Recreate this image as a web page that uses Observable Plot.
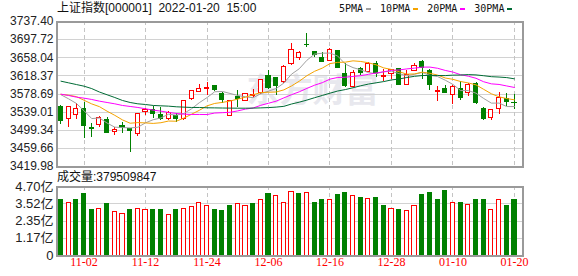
<!DOCTYPE html>
<html><head><meta charset="utf-8">
<script src="https://cdn.jsdelivr.net/npm/d3@7"></script>
<script src="https://cdn.jsdelivr.net/npm/@observablehq/plot@0.6"></script>
<style>
body{margin:0;background:#fff;}
#wrap{position:relative;width:578px;height:276px;overflow:hidden;background:#fff;font-family:"Liberation Sans",Arial,"Noto Sans CJK SC",sans-serif;}
#wrap svg{position:absolute;left:0;overflow:visible;}
.abs{position:absolute;white-space:pre;line-height:14px;}
.leg{position:absolute;top:2px;left:339px;display:flex;align-items:center;font:10px "DejaVu Sans Mono",monospace;color:#111;line-height:14px;}
.leg i{display:inline-block;width:5px;height:2px;margin:0 9px 0 3px;}
</style></head>
<body><div id="wrap"></div>
<script>
// ---- data ----
const titleText = "上证指数[000001]  2022-01-20  15:00";
const volLabel = "成交量";
const lastVolume = 379509847;
const maNames = ["5PMA", "10PMA", "20PMA", "30PMA"];

const dates = ["10-28","10-29","11-01","11-02","11-03","11-04","11-05","11-08","11-09","11-10",
"11-11","11-12","11-15","11-16","11-17","11-18","11-19","11-22","11-23","11-24",
"11-25","11-26","11-29","11-30","12-01","12-02","12-03","12-06","12-07","12-08",
"12-09","12-10","12-13","12-14","12-15","12-16","12-17","12-20","12-21","12-22",
"12-23","12-24","12-27","12-28","12-29","12-30","12-31","01-04","01-05","01-06",
"01-07","01-10","01-11","01-12","01-13","01-14","01-17","01-18","01-19","01-20"];

const open = [3550.6,3523.0,3533.2,3544.8,3504.1,3509.9,3521.5,3494.6,3508.0,3502.6,
3490.2,3539.0,3543.4,3532.5,3523.0,3531.0,3523.0,3567.4,3583.4,3590.7,
3595.8,3578.3,3531.0,3572.5,3563.8,3574.5,3581.2,3617.6,3613.3,3606.0,
3643.9,3657.7,3686.8,3671.5,3656.9,3651.1,3672.2,3622.0,3595.1,3634.4,
3627.1,3643.8,3615.4,3623.5,3632.9,3599.4,3629.3,3648.9,3629.3,3584.1,
3590.7,3576.1,3590.7,3581.2,3601.6,3544.8,3525.2,3544.8,3567.4,3559.4];
const high = [3554.3,3550.0,3557.9,3560.1,3514.3,3530.3,3528.1,3506.2,3515.7,3503.5,
3536.1,3547.0,3552.1,3549.2,3539.7,3536.1,3563.8,3587.1,3599.4,3603.8,
3597.2,3581.2,3565.2,3585.6,3580.0,3589.2,3610.4,3629.3,3614.7,3640.2,
3689.0,3670.8,3710.8,3672.5,3669.3,3677.3,3674.4,3645.3,3629.3,3637.3,
3646.7,3649.7,3632.2,3632.2,3634.4,3630.7,3644.6,3652.6,3632.2,3594.4,
3597.2,3596.5,3605.3,3601.6,3603.1,3548.5,3544.8,3581.2,3579.8,3578.3];
const low = [3512.1,3505.5,3523.0,3481.5,3483.0,3505.5,3492.4,3488.8,3492.4,3450.9,
3486.6,3531.0,3524.4,3521.5,3521.5,3517.2,3520.1,3565.2,3581.2,3576.1,
3584.9,3557.9,3528.8,3549.2,3562.3,3571.0,3578.3,3588.5,3576.1,3601.6,
3640.2,3652.6,3680.2,3658.4,3646.7,3649.7,3633.6,3592.2,3592.9,3618.4,
3624.9,3614.7,3605.3,3610.4,3598.5,3598.0,3627.1,3611.1,3585.6,3561.6,
3579.8,3555.8,3565.2,3573.9,3556.5,3521.5,3521.5,3533.9,3552.1,3544.8];
const close = [3520.1,3549.2,3544.8,3509.2,3501.1,3526.6,3493.9,3499.7,3505.0,3496.8,
3533.9,3542.6,3533.9,3524.5,3537.6,3523.0,3562.3,3584.9,3590.7,3592.9,
3587.1,3565.2,3563.8,3568.1,3579.0,3577.0,3608.9,3592.2,3596.5,3638.7,
3674.4,3667.9,3685.3,3664.2,3648.2,3675.9,3635.8,3596.5,3625.6,3624.9,
3645.3,3623.5,3617.6,3630.7,3599.4,3621.3,3640.9,3636.6,3599.4,3586.3,
3581.2,3594.4,3569.6,3599.4,3557.9,3523.0,3543.4,3570.3,3561.6,3557.9];

// volume in 亿, and whether the bar is drawn as "up" (red hollow)
const volume = [3.81,3.59,3.81,4.22,3.07,3.18,3.54,2.97,2.84,3.07,
3.18,3.07,3.13,3.13,2.79,3.13,3.18,3.31,3.59,3.38,
3.07,3.00,3.34,3.52,3.34,3.54,3.79,4.22,4.06,3.59,
4.34,4.22,4.27,3.61,3.81,3.79,4.09,4.29,4.06,3.95,
3.86,3.95,3.34,3.18,3.07,3.04,3.34,4.09,4.29,3.75,
4.36,3.59,3.61,3.45,3.75,3.81,3.11,3.79,3.34,3.80];
const volUp = [0,1,0,0,0,1,0,1,1,0, 1,1,0,0,1,0,1,1,1,1, 0,0,0,1,1,0,1,0,1,1,
1,0,1,0,0,1,0,0,1,0, 1,0,0,1,0,1,1,0,0,0, 0,1,0,1,0,0,1,1,0,0];

const ma5 = [3577,3568,3558,3542,3524.9,3526.2,3515.1,3506.1,3505.3,3504.4,
3505.9,3515.6,3522.4,3526.3,3534.5,3532.3,3536.3,3546.5,3559.7,3570.8,
3583.6,3584.2,3579.9,3575.4,3572.6,3570.6,3579.4,3585.0,3590.7,3602.7,
3622.1,3633.9,3652.6,3666.1,3668.0,3668.3,3661.9,3644.1,3636.4,3631.7,
3625.6,3623.2,3627.4,3628.4,3623.3,3618.5,3622.0,3625.8,3619.5,3616.9,
3608.9,3599.6,3586.2,3586.2,3580.5,3568.9,3558.7,3558.8,3551.2,3551.2];
const ma10 = [3578,3576,3573,3565,3557,3551,3541,3532,3522,3514.7,
3516.1,3515.4,3514.3,3515.8,3519.5,3519.1,3526.0,3534.5,3543.0,3552.7,
3558.0,3560.3,3563.2,3567.6,3571.7,3577.1,3581.8,3582.5,3583.1,3587.7,
3596.4,3606.7,3618.8,3628.4,3635.4,3645.2,3647.9,3648.4,3651.3,3649.9,
3647.0,3642.6,3635.8,3632.4,3627.5,3622.1,3622.6,3626.6,3624.0,3620.1,
3613.7,3610.8,3606.0,3602.9,3598.7,3588.9,3579.2,3572.5,3568.7,3565.9];
const ma20 = [3578.3,3575.4,3571.8,3569.6,3566.7,3563.0,3560.1,3557.2,3553.6,3551.4,
3549.2,3546.3,3543.4,3541.2,3538.3,3536.1,3534.6,3533.9,3533.9,3533.7,
3537.0,3537.8,3538.7,3541.7,3545.6,3548.1,3553.9,3558.5,3563.0,3570.2,
3577.2,3583.5,3591.0,3598.0,3603.5,3611.2,3614.9,3615.4,3617.2,3618.8,
3621.7,3624.6,3627.3,3630.4,3631.4,3633.6,3635.3,3637.5,3637.6,3635.0,
3630.3,3626.7,3620.9,3617.6,3613.1,3605.5,3600.9,3599.6,3596.3,3593.0];
const ma30 = [3606.7,3603.1,3599.4,3595.8,3590.5,3583.0,3577.0,3571.0,3564.5,3560.1,
3557.2,3555.7,3553.6,3552.8,3552.1,3550.7,3549.9,3549.2,3549.2,3548.5,
3548.3,3548.0,3547.8,3547.6,3547.6,3547.8,3548.3,3549.0,3550.0,3551.7,
3556.8,3560.8,3565.4,3570.6,3575.5,3580.5,3585.2,3588.4,3592.4,3596.7,
3600.4,3603.2,3605.9,3609.5,3611.5,3614.8,3617.4,3619.1,3619.4,3619.2,
3619.0,3620.0,3620.2,3621.2,3620.5,3618.7,3616.6,3615.8,3614.6,3611.9];

const priceTicks = [3419.98,3459.66,3499.34,3539.01,3578.69,3618.37,3658.04,3697.72,3737.40];
const volTicks = [0,1.17,2.35,3.52,4.70];
const volTickLabels = ["0","1.17亿","2.35亿","3.52亿","4.70亿"];
const xTickLabels = ["11-02","11-12","11-24","12-06","12-16","12-28","01-10","01-20"];
const watermark = "东方财富";

// ---- build ----
const RED = "#ff0000", GREEN = "#008000";
const maColors = ["#a0a0a0", "#f5a300", "#ff00ff", "#006b35"];
const rows = dates.map((d, k) => ({i: k + 1, date: d, open: open[k], high: high[k], low: low[k], close: close[k], vol: volume[k], vup: volUp[k]}));
const maSeries = [ma5, ma10, ma20, ma30];
const maRows = maSeries.flatMap((arr, s) => arr.map((v, k) => ({i: k + 1, v, s})));
const tickIdx = xTickLabels.map(t => dates.indexOf(t) + 1);
const xDomain = [0.415, 61.05];
const hw = 0.27;
const font = "'Liberation Sans', Arial, 'Noto Sans CJK SC', sans-serif";
const wrap = document.getElementById("wrap");

const price = Plot.plot({
  width: 578, height: 176,
  marginLeft: 56, marginRight: 56, marginTop: 21, marginBottom: 10,
  x: {type: "linear", domain: xDomain, axis: null},
  y: {domain: [priceTicks[0], priceTicks[priceTicks.length - 1]], axis: null},
  color: {type: "identity"},
  style: {fontFamily: font, fontSize: "12px", background: "transparent", overflow: "visible"},
  marks: [
    Plot.text([watermark], {frameAnchor: "middle", dx: 23, dy: -3, text: d => d, fontSize: 33, fontWeight: "bold", fill: "#e8e8ee", fontFamily: "'Noto Sans CJK SC', sans-serif"}),
    Plot.ruleY(priceTicks.slice(1, -1), {y: d => d, stroke: "#d2d2d2", shapeRendering: "crispEdges"}),
    Plot.ruleX(tickIdx, {x: d => d, stroke: "#c4c4c4", strokeDasharray: "4,3", shapeRendering: "crispEdges"}),
    Plot.ruleX(rows, {x: "i", y1: "low", y2: "high", stroke: d => d.close >= d.open ? RED : GREEN, shapeRendering: "crispEdges"}),
    Plot.rect(rows, {x1: d => d.i - hw, x2: d => d.i + hw, y1: "open", y2: "close",
      fill: d => d.close >= d.open ? "white" : GREEN, stroke: d => d.close >= d.open ? RED : GREEN, shapeRendering: "crispEdges"}),
    Plot.line(maRows, {x: "i", y: "v", z: "s", stroke: d => maColors[d.s], strokeWidth: 1}),
    Plot.frame({stroke: "#9a9a9a", strokeWidth: 2, shapeRendering: "crispEdges"}),
    Plot.text(priceTicks, {y: d => d, frameAnchor: "left", dx: -3, textAnchor: "end", text: d => d.toFixed(2), fill: "#222", fontSize: 12})
  ]
});
price.style.top = "0px";
wrap.appendChild(price);

const volAxis = volTicks.map((v, k) => ({v, label: volTickLabels[k]}));
const dateAxis = tickIdx.map((i, k) => ({i, label: xTickLabels[k]}));
const vol = Plot.plot({
  width: 578, height: 100,
  marginLeft: 56, marginRight: 56, marginTop: 10, marginBottom: 21,
  x: {type: "linear", domain: xDomain, axis: null},
  y: {domain: [volTicks[0], volTicks[volTicks.length - 1]], axis: null},
  color: {type: "identity"},
  style: {fontFamily: font, fontSize: "12px", background: "transparent", overflow: "visible"},
  marks: [
    Plot.ruleY(volTicks.slice(1, -1), {y: d => d, stroke: "#d2d2d2", shapeRendering: "crispEdges"}),
    Plot.ruleX(tickIdx, {x: d => d, stroke: "#c4c4c4", strokeDasharray: "4,3", shapeRendering: "crispEdges"}),
    Plot.rect(rows, {x1: d => d.i - hw, x2: d => d.i + hw, y1: d => 0, y2: "vol",
      fill: d => d.vup ? "white" : GREEN, stroke: d => d.vup ? RED : GREEN, shapeRendering: "crispEdges"}),
    Plot.frame({stroke: "#9a9a9a", strokeWidth: 2, shapeRendering: "crispEdges"}),
    Plot.text(volAxis, {y: "v", frameAnchor: "left", dx: -3, textAnchor: "end", text: "label", fill: "#222", fontSize: 13}),
    Plot.text(dateAxis, {x: "i", frameAnchor: "bottom", dy: 10, text: "label", fill: RED, fontSize: 12, fontFamily: "'Liberation Serif', serif"})
  ]
});
vol.style.top = "176px";
wrap.appendChild(vol);

// title
const t = document.createElement("div");
t.className = "abs";
t.style.cssText = "left:57px;top:1px;font-size:12px;color:#111;";
t.textContent = titleText;
wrap.appendChild(t);

// legend
const leg = document.createElement("div");
leg.className = "leg";
maNames.forEach((n, k) => {
  const s = document.createElement("span"); s.textContent = n; leg.appendChild(s);
  const d = document.createElement("i"); d.style.background = maColors[k]; leg.appendChild(d);
});
wrap.appendChild(leg);

// volume caption
const v = document.createElement("div");
v.className = "abs";
v.style.cssText = "left:57px;top:170px;font-size:12px;color:#111;";
v.textContent = volLabel + ":" + lastVolume;
wrap.appendChild(v);
</script>
</body></html>
